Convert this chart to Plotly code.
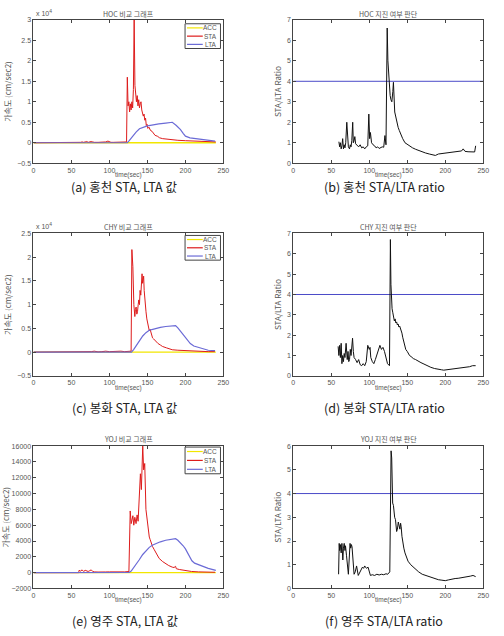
import plotly.graph_objects as go

W, H = 504, 636

# ---------------- data ----------------
# (a) HOC comparison (units of 1e4 cm/sec2)
hoc_t_sta = [0, 60, 62, 64, 66, 68, 70, 72, 74, 76, 78, 80, 85, 90, 95, 98, 100, 102, 105, 110, 115, 120, 122.5,
             123.5, 124.5, 125.5, 126.5, 127.5, 128.5, 129.5, 130.5, 131.5, 132.5, 133.5, 134.5, 135.5, 136.5, 137.5,
             138.5, 139.5, 140.5, 141.5, 142.5, 143.5, 144.5, 145.5, 146.5, 147.5, 148.5, 149.5, 150.5, 152, 154, 156,
             158, 160, 163, 166, 170, 175, 180, 190, 200, 210, 220, 230, 240]
hoc_sta = [0, 0, 0.01, 0.02, 0.01, 0.02, 0.03, 0.01, 0.02, 0.03, 0.02, 0.01, 0.01, 0.01, 0.02, 0.04, 0.02, 0.01, 0.01,
           0.01, 0.01, 0.01, 0.02,
           1.6, 0.9, 1.0, 0.75, 0.95, 0.8, 1.0, 0.85, 1.3, 3.0, 1.4, 1.1, 1.0, 1.15, 0.9,
           1.05, 0.85, 0.95, 1.0, 0.8, 0.75, 0.65, 0.7, 0.55, 0.6, 0.42, 0.45, 0.35, 0.38, 0.3, 0.28,
           0.24, 0.18, 0.16, 0.12, 0.1, 0.09, 0.07, 0.06, 0.05, 0.04, 0.03, 0.03, 0.02]
hoc_t_lta = [0, 123.5, 126, 128.7, 132, 135, 139.5, 143, 148, 152, 157, 165, 174, 182.7, 188, 193.5, 197, 200, 206,
             213, 220, 226, 232, 239]
hoc_lta = [0, 0, 0.05, 0.12, 0.19, 0.26, 0.34, 0.37, 0.4, 0.42, 0.44, 0.46, 0.48, 0.5, 0.42, 0.32, 0.23, 0.16, 0.12,
           0.1, 0.08, 0.065, 0.05, 0.04]
hoc_t_acc = [0, 240]
hoc_acc = [0, 0]

# (b) HOC STA/LTA ratio
hoc_t_ratio = [60, 61, 62, 63, 64, 65, 66, 67, 68, 69, 70.4, 71.5, 72.5, 74, 75, 76, 77, 78.2, 79, 80, 81, 82, 84, 86,
               88, 90, 92, 94, 96, 98, 99.4, 100.5, 101.5, 103, 105, 107, 109, 111, 113, 115, 117, 119, 120.6, 122,
               123.6, 124.5, 125.8, 127.5, 128.5, 129.7, 131, 131.8, 133.5, 135, 136.1, 138, 139.5, 142, 144, 147,
               150.5, 154, 157, 161, 165, 170, 174, 179, 183, 187, 191, 195, 200, 205, 210, 215, 219, 221.5, 223.6,
               226, 230, 234, 238.7, 240]
hoc_ratio = [1.05, 0.8, 1.0, 0.7, 0.85, 1.2, 0.7, 0.9, 0.75, 1.0, 2.0, 1.0, 0.8, 0.7, 0.9, 0.8, 1.1, 2.0, 1.0, 1.1, 1.3,
             0.95, 0.85, 0.8, 0.9, 0.75, 0.8, 0.7, 0.8, 0.85, 2.4, 1.2, 1.5, 1.0, 0.9, 0.85, 0.75, 0.8, 0.72, 0.75,
             0.8, 0.78, 1.35, 0.9,
             6.6, 5.0, 4.0, 3.3, 3.1, 3.0, 3.5, 3.95, 2.5, 2.2, 2.0, 1.75, 1.6, 1.35, 1.2, 1.0,
             0.9, 0.82, 0.75, 0.68, 0.62, 0.55, 0.5, 0.45, 0.42, 0.38, 0.45, 0.47, 0.5, 0.52, 0.55, 0.56, 0.58, 0.6,
             0.7, 0.58, 0.56, 0.55, 0.55, 0.85]

# (c) CHY comparison (units of 1e4 cm/sec2)
chy_t_sta = [0, 60, 64, 68, 72, 76, 80, 85, 90, 95, 100, 105, 110, 115, 120, 125, 128.5, 129.5, 130.8, 132.1, 133.4,
             134.2, 135.1, 136, 136.9, 137.8, 138.6, 139.5, 140.3, 141.2, 142, 142.9, 143.6, 144.2, 145, 145.7,
             146.4, 147.2, 148.1, 149.2, 150.3, 151.3, 152.4, 153.5, 154.6, 155.7, 156.7, 158, 161, 164, 167, 169.7,
             175, 182.6, 190, 200, 210, 220, 230, 238.8]
chy_sta = [0, 0, 0.015, 0.005, 0.015, 0.01, 0.02, 0.005, 0.01, 0.02, 0.01, 0.015, 0.01, 0.02, 0.01, 0.015, 0.02, 2.16,
           1.8, 1.0, 0.75, 0.9, 0.95, 0.8, 0.85, 1.0, 1.1, 1.0, 1.3, 1.2, 1.5, 1.65, 1.45, 1.5, 1.6, 1.3,
           1.1, 0.95, 0.85, 0.7, 0.6, 0.5, 0.45, 0.48, 0.4, 0.35, 0.3, 0.28, 0.22, 0.18, 0.15, 0.12,
           0.09, 0.05, 0.04, 0.03, 0.02, 0.015, 0.01, 0.01]
chy_t_lta = [0, 129, 132, 135, 139, 143.8, 148, 152.4, 157, 161, 167, 174, 181, 187, 190, 193.4, 197, 200, 203, 206.4,
             211, 217, 223, 230, 239]
chy_lta = [0, 0, 0.06, 0.13, 0.24, 0.34, 0.41, 0.46, 0.48, 0.5, 0.52, 0.54, 0.55, 0.56, 0.51, 0.44, 0.37, 0.3, 0.24,
           0.18, 0.13, 0.1, 0.07, 0.04, 0.03]
chy_t_acc = [0, 240]
chy_acc = [0, 0]

# (d) CHY STA/LTA ratio
chy_t_ratio = [59, 60, 61, 62, 63, 64, 65, 66, 67, 68, 69.5, 71, 72, 73, 74, 75, 76, 77, 78, 79, 80, 82, 84, 86, 88,
               90, 92, 94, 96, 98, 100, 101, 102, 104, 106, 108, 110, 112, 114, 116, 118, 120, 122, 124, 126.6,
               127.8, 128.5, 129.2, 130, 131, 132, 133, 134, 135, 136, 137, 138, 139, 140, 141, 142, 143, 144, 146,
               148, 150, 151, 153, 155, 158, 161, 164, 168, 172, 176, 181, 186, 190, 195, 198, 203, 208, 213, 218,
               223, 228, 232, 236, 240]
chy_ratio = [1.45, 1.0, 1.5, 0.9, 1.6, 0.6, 1.0, 0.7, 1.1, 0.9, 1.6, 0.8, 1.2, 0.7, 0.8, 1.3, 1.0, 1.4, 1.85, 1.2,
             0.9, 0.8, 0.65, 0.8, 0.55, 0.5, 0.6, 0.5, 0.7, 1.5, 1.3, 1.4, 0.9, 0.7, 0.6, 0.8, 1.0, 1.3, 1.5, 1.3,
             1.4, 1.2, 0.9, 0.6, 0.5,
             6.7, 4.5, 3.8, 3.3, 3.1, 2.9, 2.7, 2.8, 2.6, 2.65, 2.5, 2.55, 2.4, 2.45, 2.35, 2.3, 2.1, 1.9, 1.6,
             1.3, 1.2, 1.1, 1.0, 0.95, 0.85, 0.8, 0.72, 0.65, 0.58, 0.5, 0.42, 0.36, 0.32, 0.3, 0.28, 0.3, 0.32,
             0.35, 0.37, 0.4, 0.42, 0.45, 0.5, 0.5]

# (e) YOJ comparison (cm/sec2)
yoj_t_sta = [0, 59.5, 60, 62, 64, 66, 68, 70, 72, 74, 76, 78, 80, 85, 90, 95, 100, 105, 110, 115, 120, 125.6, 127.3,
             128.6, 129.7, 130.8, 132, 133.4, 135, 136.4, 137.7, 138.6, 139.5, 140.7, 142, 143.8, 145, 145.7,
             146.4, 148, 149.2, 150.3, 151.3, 152.4, 153.5, 154.6, 155.7, 156.7, 159, 161, 163, 165.4, 170, 174,
             178, 182.6, 185, 187, 188, 192, 200, 208, 217, 228, 239]
yoj_sta = [0, 0, 300, 200, 350, 150, 300, 200, 150, 250, 350, 150, 100, 80, 120, 90, 100, 80, 100, 90, 100, 150, 7800,
           6200, 6800, 7200, 6000, 7000, 6200, 7300, 6500, 8000, 9500, 12500, 10500, 16000, 13000, 13500,
           13800, 8000, 6800, 5700, 5000, 4500, 4200, 3800, 3600, 3300, 2900, 2500, 2200, 1800, 1400, 1100,
           900, 700, 650, 800, 500, 400, 250, 150, 100, 80, 50]
yoj_t_lta = [0, 60, 126, 128.6, 131, 135, 139, 143.8, 148, 152.4, 157, 161, 167, 174, 181, 187, 190, 193.4, 197, 200,
             204, 208.5, 212, 217, 223, 230, 240]
yoj_lta = [0, 30, 50, 200, 500, 1000, 1600, 2300, 2800, 3200, 3500, 3700, 3900, 4100, 4200, 4300, 4100, 3800, 3400,
           3000, 2200, 1500, 1200, 1000, 750, 550, 300]
yoj_t_acc = [0, 240]
yoj_acc = [0, 0]

# (f) YOJ STA/LTA ratio
yoj_t_ratio = [59.6, 60.4, 61, 62, 63, 64, 65.2, 66, 67, 68, 68.7, 70, 71, 72.5, 73.5, 74.7, 75.5, 76.5, 77.3, 78.5,
               80, 81.5, 83.3, 85.5, 87.6, 89, 91, 92.5, 94, 95, 96.3, 98.4, 100, 101.5, 104, 107, 110, 113, 116,
               119, 122, 124.3, 125.6, 127, 128.7, 129.5, 130.8, 131.8, 133.4, 134.5, 136, 137, 138.2, 139.3,
               140.3, 141.2, 142, 143, 143.8, 145.5, 147, 149, 151, 154.6, 158, 161, 165, 169.7, 174, 178.3, 183,
               187, 191, 195.6, 200, 204, 208.5, 213, 217, 221.5, 226, 230, 233, 236.6, 240]
yoj_ratio = [0.6, 1.9, 1.6, 1.85, 1.5, 1.9, 1.2, 1.7, 1.9, 1.6, 1.8, 1.4, 0.9, 0.6, 1.2, 1.9, 1.7, 1.85, 1.75, 1.1,
             0.6, 0.7, 0.95, 0.55, 0.7, 0.8, 0.9, 0.85, 0.95, 0.9, 0.85, 0.9, 0.7, 0.55, 0.58, 0.55, 0.6, 0.57,
             0.6, 0.58, 0.62, 0.6, 0.65, 0.7, 5.8, 5.5, 3.6, 3.5, 3.0, 2.9, 2.4, 2.5, 2.8, 2.6,
             2.5, 2.75, 2.6, 2.2, 2.0, 1.7, 1.5, 1.3, 1.15, 1.0, 0.9, 0.8, 0.7, 0.6, 0.55, 0.5, 0.45,
             0.4, 0.37, 0.35, 0.33, 0.36, 0.4, 0.42, 0.43, 0.45, 0.48, 0.5, 0.52, 0.55, 0.5]

threshold = 4
x_range = [0, 250]
x_ticks = [0, 50, 100, 150, 200, 250]
legend_names = ["ACC", "STA", "LTA"]

panels = [
    dict(title="HOC 비교 그래프", cap="(a) 홍천 STA, LTA 값", yr=[-0.5, 3], yt=[-0.5, 0, 0.5, 1, 1.5, 2, 2.5, 3],
         ytitle="가속도 (cm/sec2)", exp=True),
    dict(title="HOC 지진 여부 판단", cap="(b) 홍천 STA/LTA ratio", yr=[0, 7], yt=list(range(0, 8)),
         ytitle="STA/LTA Ratio", exp=False),
    dict(title="CHY 비교 그래프", cap="(c) 봉화 STA, LTA 값", yr=[-0.5, 2.5], yt=[-0.5, 0, 0.5, 1, 1.5, 2, 2.5],
         ytitle="가속도 (cm/sec2)", exp=True),
    dict(title="CHY 지진 여부 판단", cap="(d) 봉화 STA/LTA ratio", yr=[0, 7], yt=list(range(0, 8)),
         ytitle="STA/LTA Ratio", exp=False),
    dict(title="YOJ 비교 그래프", cap="(e) 영주 STA, LTA 값", yr=[-2000, 16000], yt=list(range(-2000, 16001, 2000)),
         ytitle="가속도 (cm/sec2)", exp=False),
    dict(title="YOJ 지진 여부 판단", cap="(f) 영주 STA/LTA ratio", yr=[0, 6], yt=list(range(0, 7)),
         ytitle="STA/LTA Ratio", exp=False),
]

# pixel layout
col_x = [(32, 225), (296, 489)]
row_y = [(16, 161), (232, 376), (447, 591)]
title_y = [10, 225, 440]
cap_y = [185, 408, 623]
legend_box = [(186, 20, 222, 45), (186, 234, 222, 259), (186, 448, 222, 475)]

ACC_C = "#f2e600"
STA_C = "#dd1c1c"
LTA_C = "#6b6bd6"
THR_C = "#4a4ac8"
TXT = "#555555"
LAT = "Liberation Sans, Arial, sans-serif"
KOR = "Noto Sans CJK KR, sans-serif"

fig = go.Figure()
layout = dict(width=W, height=H, margin=dict(l=0, r=0, t=0, b=0), paper_bgcolor="white",
              plot_bgcolor="white", annotations=[], shapes=[], showlegend=False)


def px(x):
    return x / W


def py(y):
    return 1 - y / H


comp_data = [
    (hoc_t_acc, hoc_acc, hoc_t_sta, hoc_sta, hoc_t_lta, hoc_lta),
    (chy_t_acc, chy_acc, chy_t_sta, chy_sta, chy_t_lta, chy_lta),
    (yoj_t_acc, yoj_acc, yoj_t_sta, yoj_sta, yoj_t_lta, yoj_lta),
]
ratio_data = [(hoc_t_ratio, hoc_ratio), (chy_t_ratio, chy_ratio), (yoj_t_ratio, yoj_ratio)]
comp_colors = [ACC_C, STA_C, LTA_C]
comp_widths = [1.3, 1, 1.2]

for i, p in enumerate(panels):
    r, c = divmod(i, 2)
    n = i + 1
    xa = "x" if n == 1 else f"x{n}"
    ya = "y" if n == 1 else f"y{n}"
    x0, x1 = col_x[c]
    yt0, yb0 = row_y[r]
    layout["xaxis" if n == 1 else f"xaxis{n}"] = dict(
        domain=[px(x0), px(x1)], anchor=ya, range=x_range, tickvals=x_ticks,
        showline=True, linecolor="#444", linewidth=1, mirror="ticks", ticks="inside", ticklen=3,
        tickcolor="#444", showgrid=False, zeroline=False,
        tickfont=dict(size=7, color=TXT, family=LAT))
    layout["yaxis" if n == 1 else f"yaxis{n}"] = dict(
        domain=[py(yb0), py(yt0)], anchor=xa, range=p["yr"], tickvals=p["yt"],
        tickformat="d" if (r == 2 and c == 0) else None,
        showline=True, linecolor="#444", linewidth=1, mirror="ticks", ticks="inside", ticklen=3,
        tickcolor="#444", showgrid=False, zeroline=False,
        tickfont=dict(size=7, color=TXT, family=LAT),
        title=dict(text=p["ytitle"], font=dict(size=8, color=TXT, family=KOR), standoff=4))
    # x axis title
    layout["annotations"].append(dict(
        text="time(sec)", x=px((x0 + x1) / 2), y=py(yb0 + 12), xref="paper", yref="paper",
        showarrow=False, xanchor="center", yanchor="middle", font=dict(size=6.5, color=TXT, family=LAT)))
    # panel title
    layout["annotations"].append(dict(
        text=p["title"], x=px((x0 + x1) / 2), y=py(title_y[r]), xref="paper", yref="paper",
        showarrow=False, xanchor="center", yanchor="middle", font=dict(size=7, color=TXT, family=KOR)))
    # caption
    layout["annotations"].append(dict(
        text=p["cap"], x=px((x0 + x1) / 2 - 4), y=py(cap_y[r]), xref="paper", yref="paper",
        showarrow=False, xanchor="center", yanchor="middle", font=dict(size=12.5, color="#222", family=KOR)))
    if p["exp"]:
        layout["annotations"].append(dict(
            text="x 10<sup>4</sup>", x=px(x0 + 1), y=py(yt0 - 1), xref="paper", yref="paper",
            showarrow=False, xanchor="left", yanchor="bottom", font=dict(size=7, color=TXT, family=LAT)))

    if c == 0:
        ta, a, ts, s, tl, l = comp_data[r]
        series = [(ta, a), (ts, s), (tl, l)]
        for k, (tx, vy) in enumerate(series):
            fig.add_trace(go.Scatter(x=tx, y=vy, mode="lines", name=legend_names[k],
                                     line=dict(color=comp_colors[k], width=comp_widths[k]),
                                     xaxis=xa, yaxis=ya))
        # compact MATLAB-style legend box
        bx0, by0, bx1, by1 = legend_box[r]
        layout["shapes"].append(dict(type="rect", xref="paper", yref="paper",
                                     x0=px(bx0), x1=px(bx1), y0=py(by1), y1=py(by0),
                                     line=dict(color="#444", width=1), fillcolor="white", layer="above"))
        step = (by1 - by0) / 3
        for k, nm in enumerate(legend_names):
            yy = by0 + step * (k + 0.5)
            layout["shapes"].append(dict(type="line", xref="paper", yref="paper",
                                         x0=px(bx0 + 2), x1=px(bx0 + 18), y0=py(yy), y1=py(yy),
                                         line=dict(color=comp_colors[k], width=1.2), layer="above"))
            layout["annotations"].append(dict(
                text=nm, x=px(bx1 - 2), y=py(yy), xref="paper", yref="paper", showarrow=False,
                xanchor="right", yanchor="middle", font=dict(size=6.5, color=TXT, family=LAT)))
    else:
        tr, rv = ratio_data[r]
        fig.add_trace(go.Scatter(x=x_range, y=[threshold, threshold], mode="lines",
                                 line=dict(color=THR_C, width=1), xaxis=xa, yaxis=ya))
        fig.add_trace(go.Scatter(x=tr, y=rv, mode="lines", line=dict(color="#111", width=1),
                                 xaxis=xa, yaxis=ya))

fig.update_layout(**layout)
fig.write_html("out.html", config={"displayModeBar": False},
               post_script="document.body.style.margin='0';document.body.style.overflow='hidden';")
